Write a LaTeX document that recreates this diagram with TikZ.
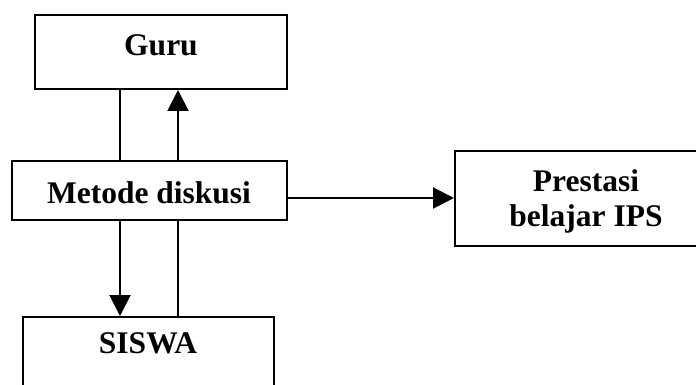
\documentclass[tikz,border=0pt]{standalone}
\usepackage{fontspec}
\setmainfont{Liberation Serif}
\usetikzlibrary{arrows.meta}
\begin{document}
\begin{tikzpicture}[x=1pt,y=-1pt,
  box/.style={draw=black,line width=2pt,inner sep=0pt,rectangle},
  lbl/.style={font=\bfseries\fontsize{31.5}{35}\selectfont,inner sep=0pt,align=center},
  conn/.style={line width=2pt},
  arr/.style={conn,-{Triangle[length=21pt,width=21pt]}}]
\useasboundingbox (0,0) rectangle (696,385);
\node[box,minimum width=252pt,minimum height=74pt] (guru) at (161,52) {};
\node[box,minimum width=275pt,minimum height=59pt] (metode) at (149.5,190.5) {};
\node[box,minimum width=251pt,minimum height=100pt] (siswa) at (148.5,367) {};
\node[box,minimum width=270pt,minimum height=95pt] (prestasi) at (590,198.5) {};
\node[lbl] (tguru) at (161,45) {Guru};
\node[lbl] (tmetode) at (149,193) {Metode diskusi};
\node[lbl] (tsiswa) at (148,343) {SISWA};
\node[lbl] (tprestasi) at (586,201) {Prestasi\\belajar IPS};
\coordinate (xl) at (120,0);
\coordinate (xr) at (178,0);
\coordinate (yh) at (0,198);
\draw[conn] (guru.south -| xl) -- (metode.north -| xl);
\draw[arr] (metode.north -| xr) -- (guru.south -| xr);
\draw[arr] (metode.south -| xl) -- (siswa.north -| xl);
\draw[conn] (siswa.north -| xr) -- (metode.south -| xr);
\draw[arr] (metode.east |- yh) -- (prestasi.west |- yh);
\end{tikzpicture}
\end{document}
